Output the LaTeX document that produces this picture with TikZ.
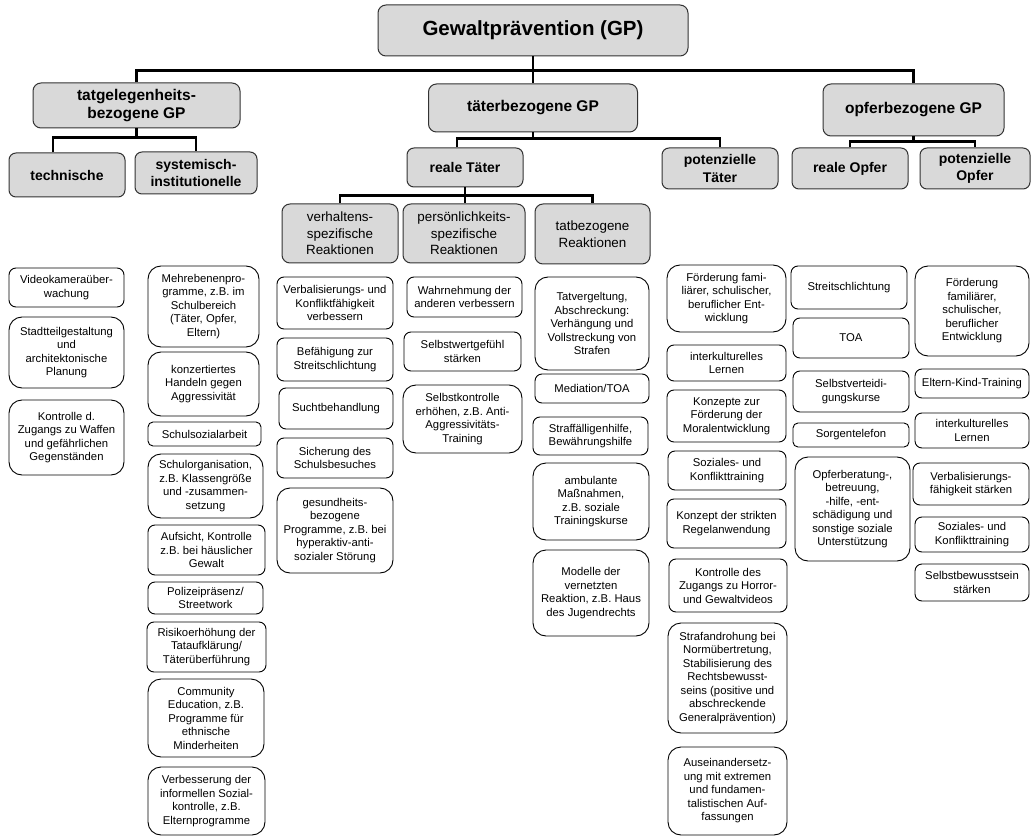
\documentclass[tikz,border=0pt]{standalone}
\usepackage{fontspec}
\setmainfont{Liberation Sans}
\usepackage{tikz}
\usetikzlibrary{positioning}

\begin{document}
\frenchspacing
\begin{tikzpicture}[x=1pt,y=-1pt,
  topbox/.style={draw=black!80,fill=gray!30,line width=1pt,rounded corners=8pt,inner sep=1pt,align=center,font=\fontsize{20.5}{24}\selectfont\bfseries},
  mainbox/.style={draw=black!80,fill=gray!30,line width=1pt,rounded corners=8pt,inner sep=1pt,align=center,font=\fontsize{15.5}{18.3}\selectfont\bfseries},
  subbox/.style={draw=black!80,fill=gray!30,line width=1pt,rounded corners=7pt,inner sep=1pt,align=center,font=\fontsize{14}{17.5}\selectfont\bfseries},
  reactbox/.style={draw=black!80,fill=gray!30,line width=1pt,rounded corners=8pt,inner sep=1pt,align=center,font=\fontsize{13.4}{16.7}\selectfont},
  leaf/.style={draw=black,line width=0.9pt,rounded corners=7pt,inner sep=1pt,align=center,font=\fontsize{11.3}{13.5}\selectfont},
  tallleaf/.style={leaf,rounded corners=13pt},
  smallleaf/.style={leaf,rounded corners=5pt},
  conn/.style={draw=black,line width=2.6pt}]
\useasboundingbox (0,0) rectangle (1031,837);
\node[topbox, minimum width=310, minimum height=51] (gp) at (533,30.5) {Gewaltprävention (GP)};
\node[mainbox, minimum width=207, minimum height=45] (tat) at (136.5,105.5) {tatgelegenheits-\\bezogene GP};
\node[mainbox, minimum width=209, minimum height=48] (taeter) at (533,108) {täterbezogene GP};
\node[mainbox, minimum width=181, minimum height=52] (opfer) at (913.5,110) {opferbezogene GP};
\node[subbox, minimum width=116, minimum height=44] (tech) at (67,175) {technische};
\node[subbox, minimum width=122, minimum height=42] (sys) at (196,173) {systemisch-\\institutionelle};
\node[subbox, minimum width=116, minimum height=39] (realT) at (465,167.5) {reale Täter};
\node[subbox, minimum width=116, minimum height=41] (potT) at (720,168.5) {potenzielle\\Täter};
\node[subbox, minimum width=116, minimum height=41] (realO) at (850,168.5) {reale Opfer};
\node[subbox, minimum width=110, minimum height=41] (potO) at (975,168.5) {potenzielle\\Opfer};
\node[reactbox, minimum width=116, minimum height=59] (verh) at (340,233.5) {verhaltens-\\spezifische\\Reaktionen};
\node[reactbox, minimum width=122, minimum height=59] (pers) at (464,233.5) {persönlichkeits-\\spezifische\\Reaktionen};
\node[reactbox, minimum width=115, minimum height=60] (tatb) at (592.5,234) {tatbezogene\\Reaktionen};
\draw[conn] (gp.south) -- (gp.south |- taeter.north);
\draw[conn] (gp.south) -- ++(0,14) coordinate (j0);
\draw[conn] (tat.north) |- (opfer.north |- j0) -- (opfer.north);
\draw[conn] (tat.south) -- ++(0,9) coordinate (j1);
\draw[conn] ([xshift=-14pt]tech.north) |- (sys.north |- j1) -- (sys.north);
\draw[conn] (taeter.south) -- ++(0,6) coordinate (j2);
\draw[conn] ([xshift=-8pt]realT.north) |- (potT.north |- j2) -- (potT.north);
\draw[conn] (opfer.south) -- ++(0,5) coordinate (j3);
\draw[conn] (realO.north) |- (potO.north |- j3) -- (potO.north);
\draw[conn] (realT.south) -- (realT.south |- pers.north);
\draw[conn] (realT.south) -- ++(0,8) coordinate (j4);
\draw[conn] (verh.north) |- (tatb.north |- j4) -- (tatb.north);
\node[leaf, minimum width=115, minimum height=39] (t1) at (66.5,287.5) {Videokameraüber-\\wachung};
\node[tallleaf, minimum width=115, minimum height=71] (t2) at (66.5,352.5) {Stadtteilgestaltung\\und\\architektonische\\Planung};
\node[tallleaf, minimum width=115, minimum height=75] (t3) at (66.5,437.5) {Kontrolle d.\\Zugangs zu Waffen\\und gefährlichen\\Gegenständen};
\node[tallleaf, minimum width=111, minimum height=81] (s1) at (203.5,306.5) {Mehrebenenpro-\\gramme, z.B. im\\Schulbereich\\(Täter, Opfer,\\Eltern)};
\node[tallleaf, minimum width=111, minimum height=64] (s2) at (203.5,384) {konzertiertes\\Handeln gegen\\Aggressivität};
\node[smallleaf, minimum width=113, minimum height=24] (s3) at (204.5,434) {Schulsozialarbeit};
\node[tallleaf, minimum width=115, minimum height=64] (s4) at (205.5,486) {Schulorganisation,\\z.B. Klassengröße\\und -zusammen-\\setzung};
\node[leaf, minimum width=117, minimum height=50] (s5) at (206.5,550) {Aufsicht, Kontrolle\\z.B. bei häuslicher\\Gewalt};
\node[leaf, minimum width=115, minimum height=32] (s6) at (205.5,598) {Polizeipräsenz/\\Streetwork};
\node[leaf, minimum width=119, minimum height=50] (s7) at (206.5,647) {Risikoerhöhung der\\Tataufklärung/\\Täterüberführung};
\node[tallleaf, minimum width=116, minimum height=78] (s8) at (206,718) {Community\\Education, z.B.\\Programme für\\ethnische\\Minderheiten};
\node[tallleaf, minimum width=117, minimum height=68] (s9) at (206.5,801) {Verbesserung der\\informellen Sozial-\\kontrolle, z.B.\\Elternprogramme};
\node[leaf, minimum width=116, minimum height=52] (v1) at (335,303) {Verbalisierungs- und\\Konfliktfähigkeit\\verbessern};
\node[leaf, minimum width=116, minimum height=43] (v2) at (335,359.5) {Befähigung zur\\Streitschlichtung};
\node[leaf, minimum width=114, minimum height=41] (v3) at (336,408.5) {Suchtbehandlung};
\node[leaf, minimum width=116, minimum height=40] (v4) at (335,458) {Sicherung des\\Schulsbesuches};
\node[tallleaf, minimum width=116, minimum height=85] (v5) at (335,530.5) {gesundheits-\\bezogene\\Programme, z.B. bei\\hyperaktiv-anti-\\sozialer Störung};
\node[leaf, minimum width=115, minimum height=40] (p1) at (464.5,297) {Wahrnehmung der\\anderen verbessern};
\node[leaf, minimum width=117, minimum height=39] (p2) at (462.5,351.5) {Selbstwertgefühl\\stärken};
\node[tallleaf, minimum width=119, minimum height=68] (p3) at (462.5,419) {Selbstkontrolle\\erhöhen, z.B. Anti-\\Aggressivitäts-\\Training};
\node[tallleaf, minimum width=114, minimum height=93] (a1) at (592,323.5) {Tatvergeltung,\\Abschreckung:\\Verhängung und\\Vollstreckung von\\Strafen};
\node[leaf, minimum width=114, minimum height=29] (a2) at (592,388.5) {Mediation/TOA};
\node[leaf, minimum width=115, minimum height=38] (a3) at (590.5,436) {Straffälligenhilfe,\\Bewährungshilfe};
\node[tallleaf, minimum width=116, minimum height=77] (a4) at (591,501.5) {ambulante\\Maßnahmen,\\z.B. soziale\\Trainingskurse};
\node[tallleaf, minimum width=116, minimum height=86] (a5) at (591,593) {Modelle der\\vernetzten\\Reaktion, z.B. Haus\\des Jugendrechts};
\node[tallleaf, minimum width=119, minimum height=67] (k1) at (726.5,298.5) {Förderung fami-\\liärer, schulischer,\\beruflicher Ent-\\wicklung};
\node[leaf, minimum width=119, minimum height=36] (k2) at (726.5,363) {interkulturelles\\Lernen};
\node[leaf, minimum width=119, minimum height=52] (k3) at (726.5,416) {Konzepte zur\\Förderung der\\Moralentwicklung};
\node[leaf, minimum width=118, minimum height=39] (k4) at (727,470.5) {Soziales- und\\Konflikttraining};
\node[leaf, minimum width=119, minimum height=49] (k5) at (726.5,523.5) {Konzept der strikten\\Regelanwendung};
\node[leaf, minimum width=118, minimum height=53] (k6) at (728,585.5) {Kontrolle des\\Zugangs zu Horror-\\und Gewaltvideos};
\node[tallleaf, minimum width=119, minimum height=110] (k7) at (727.5,678) {Strafandrohung bei\\Normübertretung,\\Stabilisierung des\\Rechtsbewusst-\\seins (positive und\\abschreckende\\Generalprävention)};
\node[tallleaf, minimum width=119, minimum height=88] (k8) at (727.5,791) {Auseinandersetz-\\ung mit extremen\\und fundamen-\\talistischen Auf-\\fassungen};
\node[leaf, minimum width=116, minimum height=43] (o1) at (849,287.5) {Streitschlichtung};
\node[leaf, minimum width=116, minimum height=40] (o2) at (851,338) {TOA};
\node[leaf, minimum width=116, minimum height=41] (o3) at (851,391.5) {Selbstverteidi-\\gungskurse};
\node[smallleaf, minimum width=116, minimum height=24] (o4) at (851,435) {Sorgentelefon};
\node[tallleaf, minimum width=115, minimum height=104] (o5) at (852.5,509) {Opferberatung-,\\betreuung,\\-hilfe, -ent-\\schädigung und\\sonstige soziale\\Unterstützung};
\node[tallleaf, minimum width=114, minimum height=90] (q1) at (972,311) {Förderung\\familiärer,\\schulischer,\\beruflicher\\Entwicklung};
\node[leaf, minimum width=114, minimum height=29] (q2) at (972,383.5) {Eltern-Kind-Training};
\node[leaf, minimum width=114, minimum height=35] (q3) at (972,430.5) {interkulturelles\\Lernen};
\node[leaf, minimum width=116, minimum height=42] (q4) at (971,484) {Verbalisierungs-\\fähigkeit stärken};
\node[leaf, minimum width=114, minimum height=35] (q5) at (972,534.5) {Soziales- und\\Konflikttraining};
\node[leaf, minimum width=114, minimum height=37] (q6) at (972,582.5) {Selbstbewusstsein\\stärken};
\end{tikzpicture}
\end{document}
